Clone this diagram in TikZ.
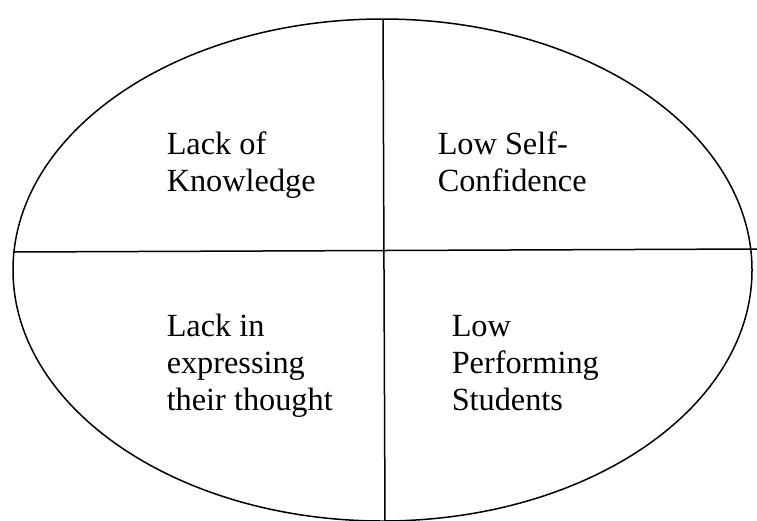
\documentclass[tikz,border=0pt]{standalone}
\usepackage{fontspec}
\setmainfont{Liberation Serif}
\usetikzlibrary{calc}

\begin{document}
\begin{tikzpicture}[x=1pt,y=-1pt,line width=1.5pt]
  \tikzset{quad/.style={align=left, anchor=base west, inner sep=0pt, font=\fontsize{32.3}{37}\selectfont}}
  \useasboundingbox (0,0) rectangle (757,520);

  \draw (382.5,270) ellipse [x radius=369.5, y radius=251];
  \coordinate (top) at (383,19);
  \coordinate (bot) at (385,522);
  \coordinate (lft) at (13,252);
  \coordinate (rgt) at (757,249);
  \path[draw] (top)--(bot);
  \path[draw] (lft)--(rgt);

  \node[quad] (know) at (166,191) {Lack of\\Knowledge};
  \node[quad] (conf) at (437,191) {Low Self-\\Confidence};
  \node[quad] (expr) at (166,410) {Lack in\\expressing\\their thought};
  \node[quad] (perf) at (451,410) {Low\\Performing\\Students};
\end{tikzpicture}
\end{document}
